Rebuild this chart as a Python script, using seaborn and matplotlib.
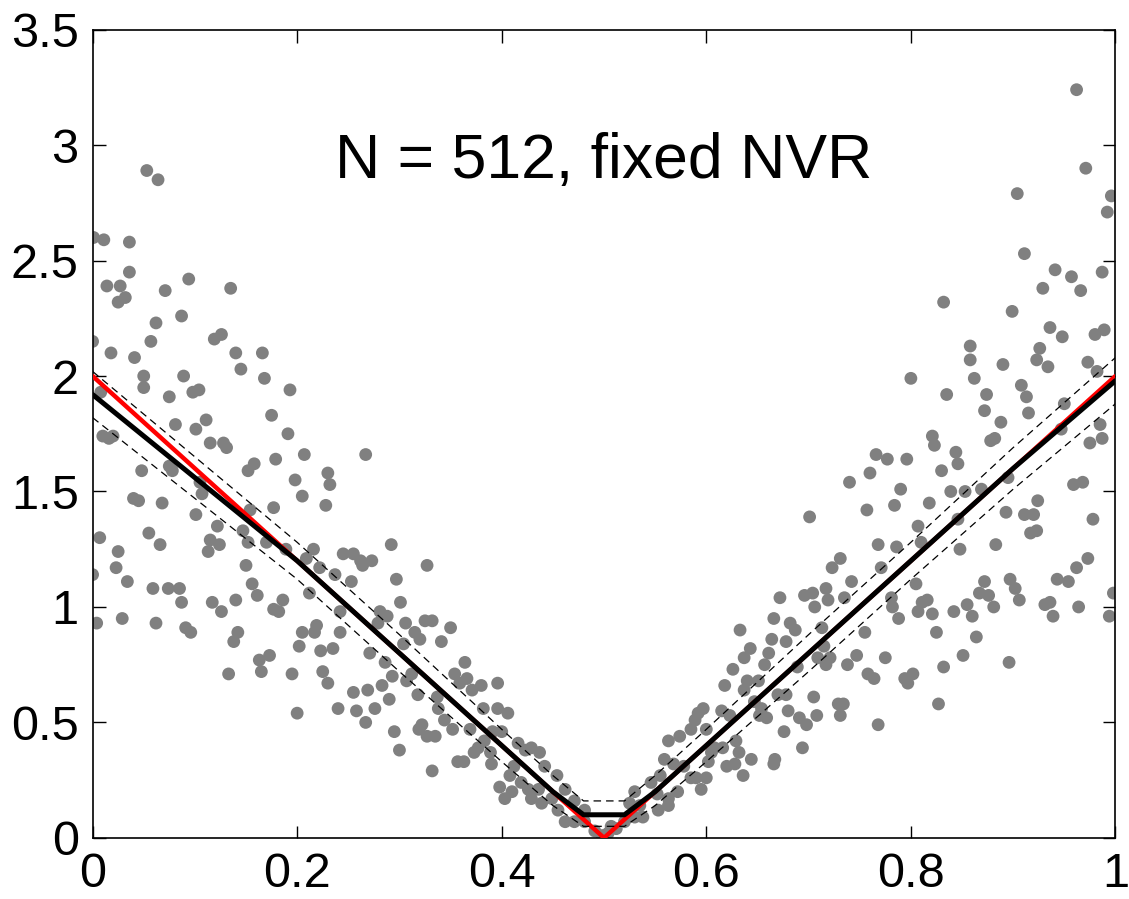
#%%
# Scatter of noisy samples with the true curve (red), the estimate (black)
# and its confidence band (dashed), N = 512, fixed NVR

import numpy as np
import seaborn as sns
import matplotlib.pyplot as plt
from matplotlib.ticker import FuncFormatter

# noisy samples (x, y)
scatter_x = [
    0.053, 0.064, 0.001, 0.011, 0.036, 0.036, 0.014, 0.027, 0.032, 0.025, 0.071, 0.094, 0.135,
    0.062, 0.087, 0.057, 0.000, 0.018, 0.041, 0.119, 0.126, 0.140, 0.166, 0.145, 0.168, 0.050,
    0.089, 0.050, 0.075, 0.098, 0.104, 0.193, 0.008, 0.175, 0.111, 0.081, 0.101, 0.191, 0.010,
    0.020, 0.016, 0.115, 0.128, 0.131, 0.207, 0.179, 0.158, 0.152, 0.075, 0.078, 0.048, 0.230,
    0.198,
    0.232, 0.205, 0.040, 0.045, 0.068, 0.105, 0.107, 0.228, 0.177, 0.154, 0.101, 0.122, 0.147,
    0.007, 0.055, 0.066, 0.115, 0.124, 0.113, 0.152, 0.170, 0.025, 0.216, 0.245, 0.255, 0.189,
    0.209, 0.222, 0.023, 0.150, 0.000, 0.034, 0.237, 0.253, 0.156, 0.059, 0.074, 0.085, 0.161,
    0.212, 0.087, 0.117, 0.140, 0.186, 0.126, 0.177, 0.182, 0.242, 0.004, 0.029, 0.062, 0.091,
    0.096, 0.142, 0.138, 0.205, 0.219, 0.217, 0.242, 0.202, 0.223, 0.235, 0.163, 0.173, 0.165,
    0.133, 0.195, 0.225, 0.230, 0.255, 0.240, 0.200, 0.258,
    0.267, 0.292, 0.262, 0.273, 0.264, 0.327, 0.297, 0.301, 0.281, 0.288, 0.306, 0.325, 0.332,
    0.315, 0.320, 0.304, 0.350, 0.341, 0.279, 0.271, 0.286, 0.364, 0.293, 0.307, 0.312, 0.354,
    0.366, 0.359, 0.283, 0.269, 0.318, 0.290, 0.337, 0.371, 0.380, 0.396, 0.276, 0.267, 0.338,
    0.344, 0.382, 0.396, 0.406, 0.322, 0.319, 0.327, 0.335, 0.352, 0.369, 0.391, 0.400, 0.295,
    0.300, 0.383, 0.377, 0.373, 0.357, 0.363, 0.389, 0.390, 0.332, 0.416, 0.423, 0.429, 0.437,
    0.412, 0.442, 0.454, 0.408, 0.398, 0.410, 0.403, 0.419, 0.426, 0.436, 0.429, 0.439, 0.449,
    0.462, 0.455, 0.471, 0.462, 0.471, 0.481, 0.491, 0.501, 0.507, 0.481,
    0.766, 0.760, 0.740, 0.757, 0.701, 0.768, 0.731, 0.723, 0.742, 0.717, 0.696, 0.704, 0.719,
    0.672, 0.706, 0.735, 0.755, 0.666, 0.682, 0.687, 0.713, 0.633, 0.664, 0.678, 0.715, 0.643,
    0.637, 0.661, 0.657, 0.626, 0.709, 0.721, 0.717, 0.738, 0.747, 0.689, 0.758, 0.764, 0.618,
    0.640, 0.651, 0.670, 0.678, 0.705, 0.647, 0.637, 0.729, 0.734, 0.680, 0.708, 0.731, 0.654,
    0.652, 0.659, 0.691, 0.698, 0.768, 0.597, 0.592, 0.589, 0.585, 0.615, 0.623, 0.600, 0.676,
    0.563, 0.574, 0.694, 0.608, 0.616, 0.629, 0.632, 0.644, 0.667, 0.666, 0.620, 0.628, 0.636,
    0.602, 0.605, 0.559, 0.568, 0.578, 0.585, 0.590, 0.600, 0.595, 0.572, 0.555, 0.546, 0.552,
    0.563, 0.563, 0.553, 0.530, 0.525, 0.535, 0.538, 0.530, 0.520, 0.512, 0.504, 0.498,
    0.962, 0.971, 0.904, 0.996, 0.992, 0.911, 0.941, 0.957, 0.987, 0.929, 0.966, 0.832, 0.899,
    0.936, 0.948, 0.980, 0.989, 0.858, 0.858, 0.926, 0.923, 0.934, 0.890, 0.973, 0.982, 0.800,
    0.862, 0.835, 0.874, 0.908, 0.913, 0.950, 0.872, 0.915,
    0.888, 0.985, 0.987, 0.975, 0.947, 0.821, 0.823, 0.878, 0.882, 0.777, 0.796, 0.844, 0.846,
    0.830, 0.790, 0.839, 0.853, 0.869, 0.895, 0.959, 0.968, 0.784, 0.818, 0.924, 0.893, 0.911,
    0.920, 0.978, 0.807, 0.846, 0.917, 0.923, 0.786, 0.810, 0.848, 0.883, 0.771, 0.973, 0.962,
    0.805, 0.872, 0.897, 0.902, 0.943, 0.954, 0.998, 0.781, 0.782, 0.811, 0.816, 0.867, 0.876,
    0.906, 0.931, 0.936, 0.855, 0.881, 0.964, 0.807, 0.821, 0.842, 0.860, 0.939, 0.994, 0.788,
    0.825, 0.864, 0.775, 0.851, 0.896, 0.832, 0.794, 0.802, 0.797, 0.827,
]
scatter_y = [
    2.89, 2.85, 2.60, 2.59, 2.58, 2.45, 2.39, 2.39, 2.34, 2.32, 2.37, 2.42, 2.38,
    2.23, 2.26, 2.15, 2.15, 2.10, 2.08, 2.16, 2.18, 2.10, 2.10, 2.03, 1.99, 2.00,
    2.00, 1.95, 1.91, 1.93, 1.94, 1.94, 1.93, 1.83, 1.81, 1.79, 1.77, 1.75, 1.74,
    1.74, 1.73, 1.71, 1.71, 1.69, 1.66, 1.64, 1.62, 1.59, 1.61, 1.59, 1.59, 1.58,
    1.55,
    1.53, 1.48, 1.47, 1.46, 1.45, 1.54, 1.49, 1.44, 1.43, 1.42, 1.40, 1.35, 1.33,
    1.30, 1.32, 1.27, 1.29, 1.27, 1.24, 1.28, 1.28, 1.24, 1.25, 1.23, 1.23, 1.25,
    1.21, 1.17, 1.17, 1.18, 1.14, 1.11, 1.14, 1.11, 1.10, 1.08, 1.08, 1.08, 1.05,
    1.06, 1.02, 1.02, 1.03, 1.03, 0.98, 0.99, 0.98, 0.98, 0.93, 0.95, 0.93, 0.91,
    0.89, 0.89, 0.85, 0.89, 0.92, 0.89, 0.89, 0.83, 0.81, 0.82, 0.77, 0.79, 0.72,
    0.71, 0.71, 0.72, 0.67, 0.63, 0.56, 0.54, 0.55,
    1.66, 1.27, 1.20, 1.20, 1.18, 1.18, 1.12, 1.02, 0.98, 0.96, 0.93, 0.94, 0.94,
    0.89, 0.86, 0.84, 0.91, 0.85, 0.93, 0.80, 0.76, 0.76, 0.70, 0.68, 0.71, 0.71,
    0.69, 0.67, 0.66, 0.64, 0.62, 0.60, 0.61, 0.64, 0.66, 0.67, 0.56, 0.50, 0.56,
    0.51, 0.56, 0.56, 0.54, 0.49, 0.47, 0.44, 0.44, 0.47, 0.47, 0.46, 0.46, 0.46,
    0.38, 0.42, 0.39, 0.37, 0.33, 0.33, 0.37, 0.32, 0.29, 0.41, 0.38, 0.39, 0.37,
    0.31, 0.31, 0.27, 0.27, 0.22, 0.20, 0.17, 0.24, 0.21, 0.21, 0.17, 0.15, 0.17,
    0.21, 0.12, 0.16, 0.07, 0.07, 0.07, 0.03, 0.01, 0.05, 0.12,
    1.66, 1.58, 1.54, 1.42, 1.39, 1.27, 1.21, 1.17, 1.11, 1.08, 1.05, 1.06, 1.03,
    1.04, 1.00, 1.04, 0.89, 0.95, 0.93, 0.90, 0.91, 0.90, 0.86, 0.85, 0.83, 0.82,
    0.78, 0.80, 0.75, 0.73, 0.78, 0.78, 0.75, 0.75, 0.79, 0.74, 0.71, 0.69, 0.66,
    0.68, 0.68, 0.62, 0.62, 0.61, 0.59, 0.64, 0.58, 0.58, 0.55, 0.53, 0.53, 0.56,
    0.53, 0.52, 0.52, 0.49, 0.49, 0.56, 0.54, 0.51, 0.47, 0.55, 0.53, 0.47, 0.46,
    0.42, 0.44, 0.39, 0.39, 0.39, 0.42, 0.37, 0.34, 0.34, 0.32, 0.31, 0.32, 0.27,
    0.33, 0.37, 0.34, 0.32, 0.31, 0.26, 0.26, 0.26, 0.21, 0.20, 0.27, 0.24, 0.19,
    0.17, 0.14, 0.12, 0.20, 0.15, 0.14, 0.09, 0.09, 0.07, 0.04, 0.02, 0.01,
    3.24, 2.90, 2.79, 2.78, 2.71, 2.53, 2.46, 2.43, 2.45, 2.38, 2.37, 2.32, 2.28,
    2.21, 2.17, 2.18, 2.20, 2.13, 2.07, 2.12, 2.07, 2.04, 2.05, 2.06, 2.02, 1.99,
    1.99, 1.92, 1.92, 1.96, 1.91, 1.88, 1.85, 1.84,
    1.80, 1.79, 1.73, 1.71, 1.77, 1.74, 1.70, 1.72, 1.73, 1.64, 1.64, 1.67, 1.62,
    1.59, 1.51, 1.50, 1.50, 1.51, 1.56, 1.53, 1.54, 1.44, 1.45, 1.46, 1.41, 1.40,
    1.40, 1.38, 1.35, 1.38, 1.32, 1.33, 1.26, 1.28, 1.25, 1.27, 1.17, 1.21, 1.17,
    1.10, 1.11, 1.12, 1.08, 1.12, 1.11, 1.06, 1.04, 1.00, 1.02, 1.03, 1.06, 1.05,
    1.03, 1.01, 1.02, 1.01, 1.00, 1.00, 0.98, 0.97, 0.98, 0.96, 0.96, 0.96, 0.95,
    0.89, 0.87, 0.78, 0.79, 0.76, 0.74, 0.69, 0.71, 0.67, 0.58,
]

# true function (red)
true_x = [0.0, 0.5, 1.0]
true_y = [2.0, 0.0, 2.0]

# estimate (black) and its dashed band
est_x = [0.0, 0.1, 0.2, 0.3, 0.4, 0.45, 0.48, 0.5, 0.52, 0.55, 0.6, 0.7, 0.8, 0.9, 1.0]
est_y = [1.92, 1.56, 1.20, 0.80, 0.40, 0.20, 0.10, 0.10, 0.10, 0.20, 0.40, 0.80, 1.20, 1.60, 1.98]
upper_y = [2.02, 1.65, 1.28, 0.88, 0.47, 0.27, 0.16, 0.16, 0.16, 0.27, 0.47, 0.88, 1.28, 1.69, 2.08]
lower_y = [1.82, 1.47, 1.12, 0.72, 0.33, 0.14, 0.05, 0.05, 0.05, 0.14, 0.33, 0.72, 1.12, 1.51, 1.88]

title_text = "N = 512, fixed NVR"

sns.set_style("ticks")
plt.rcParams['font.family'] = ['Liberation Sans', 'DejaVu Sans']
plt.rcParams['text.color'] = 'black'
plt.rcParams['xtick.color'] = 'black'
plt.rcParams['ytick.color'] = 'black'

fig = plt.figure(figsize=(11.29, 8.99), dpi=100)
ax = fig.add_axes([0.082, 0.068, 0.906, 0.899])

# samples
sns.scatterplot(x=scatter_x, y=scatter_y, color='#808080', s=85, edgecolor='none', ax=ax, zorder=2)

# true curve, estimate and band
sns.lineplot(x=true_x, y=true_y, color='red', linewidth=3.2, ax=ax, zorder=3)
sns.lineplot(x=est_x, y=est_y, color='black', linewidth=3.6, ax=ax, zorder=4)
sns.lineplot(x=est_x, y=upper_y, color='black', linewidth=0.9, linestyle=(0, (6, 4)), ax=ax, zorder=5)
sns.lineplot(x=est_x, y=lower_y, color='black', linewidth=0.9, linestyle=(0, (6, 4)), ax=ax, zorder=5)

ax.text(0.5, 2.93, title_text, ha='center', va='center', fontsize=45, color='black')

ax.set_xlim(0, 1)
ax.set_ylim(0, 3.5)
ax.set_xticks(np.arange(0, 1.01, 0.2))
ax.set_yticks(np.arange(0, 3.51, 0.5))
fmt = FuncFormatter(lambda v, p: ('%g' % round(v, 2)))
ax.xaxis.set_major_formatter(fmt)
ax.yaxis.set_major_formatter(fmt)
ax.tick_params(direction='in', length=9, width=1, top=True, right=True,
               labelsize=35, pad=10, labelcolor='black')
for sp in ax.spines.values():
    sp.set_visible(True)
    sp.set_linewidth(1.2)
    sp.set_color('black')

fig.savefig("out.png", dpi=100)
